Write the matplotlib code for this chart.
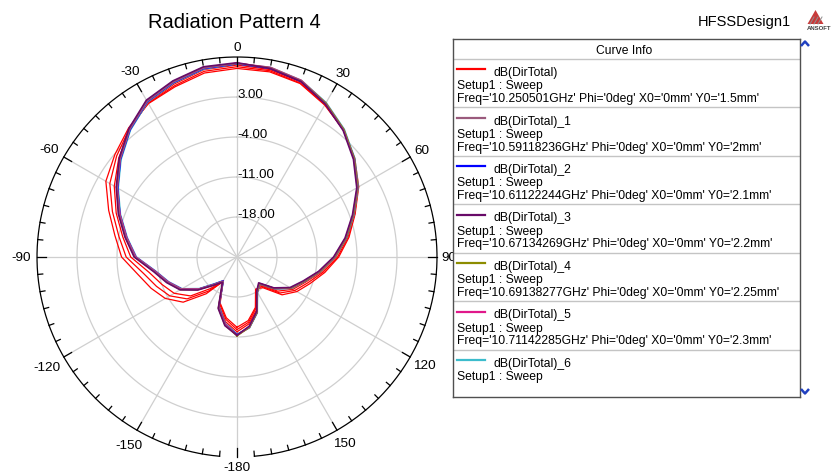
import numpy as np
import matplotlib
matplotlib.use("Agg")
import matplotlib.pyplot as plt
from matplotlib.patches import Polygon

plt.rcParams['font.family'] = ['Liberation Sans', 'DejaVu Sans']

W, H, DPI = 832, 477, 100

# theta sweep in degrees (Phi = 0 cut)
theta = [-180, -170, -160, -150, -140, -130, -120, -110, -100, -90, -80, -70, -60,
         -50, -40, -30, -20, -10, 0, 10, 20, 30, 40, 50, 60, 70, 80, 90, 100,
         110, 120, 130, 140, 150, 160, 170, 180]

# dB(DirTotal) traces
dir_total = [-12.7, -14.2, -16.4, -20.0, -16.6, -12.7, -10.5, -9.0, -7.4, -4.8, -3.3, -1.1, 1.5,
             2.9, 4.5, 6.0, 6.7, 7.7, 8.0, 7.9, 7.3, 5.7, 4.0, 1.9, -0.4, -3.0, -5.1, -7.2, -9.4,
             -11.4, -12.9, -14.7, -18.0, -18.5, -15.6, -13.7, -12.7]
dir_total_1 = [-11.3, -13.0, -15.6, -20.1, -18.7, -16.2, -13.7, -12.1, -10.4, -7.2, -5.3, -3.1, -0.8,
               1.7, 4.2, 6.5, 7.6, 8.6, 8.9, 8.6, 7.8, 6.0, 4.0, 1.7, -0.7, -3.4, -5.7, -8.0, -10.4,
               -12.6, -14.2, -16.5, -19.0, -18.0, -14.8, -12.6, -11.3]
dir_total_2 = [-11.4, -13.1, -15.7, -20.2, -18.8, -16.3, -13.8, -12.2, -10.5, -7.3, -5.4, -3.2, -0.9,
               1.6, 4.1, 6.4, 7.5, 8.5, 8.8, 8.5, 7.7, 6.0, 4.0, 1.8, -0.6, -3.3, -5.6, -7.9, -10.3,
               -12.5, -14.1, -16.4, -18.9, -17.9, -14.7, -12.5, -11.4]
dir_total_3 = [-11.3, -12.8, -15.4, -19.9, -18.5, -16.0, -13.5, -11.9, -10.2, -7.0, -5.1, -2.9, -0.6,
               1.9, 4.4, 6.7, 7.8, 8.8, 9.0, 8.5, 7.7, 5.9, 3.9, 1.6, -0.8, -3.5, -5.8, -8.1, -10.5,
               -12.7, -14.3, -16.6, -19.1, -18.1, -14.9, -12.7, -11.3]
dir_total_4 = [-11.2, -12.9, -15.5, -20.0, -18.6, -16.1, -13.6, -12.0, -10.3, -7.1, -5.2, -3.0, -0.7,
               1.8, 4.3, 6.6, 7.7, 8.7, 8.9, 8.6, 7.8, 6.1, 4.1, 1.8, -0.6, -3.3, -5.6, -7.9, -10.3,
               -12.5, -14.1, -16.4, -18.9, -17.9, -14.7, -12.5, -11.2]
dir_total_5 = [-11.3, -13.1, -15.6, -20.1, -18.7, -16.3, -13.8, -12.2, -10.5, -7.3, -5.4, -3.2, -0.8,
               1.7, 4.2, 6.5, 7.6, 8.6, 8.9, 8.7, 7.9, 6.1, 4.1, 1.8, -0.6, -3.3, -5.6, -7.9, -10.3,
               -12.5, -14.1, -16.4, -18.9, -17.9, -14.7, -12.5, -11.3]
dir_total_6 = [-11.5, -13.2, -15.8, -20.2, -18.9, -16.4, -13.9, -12.3, -10.6, -7.4, -5.5, -3.3, -1.0,
               1.5, 4.0, 6.3, 7.4, 8.4, 8.8, 8.7, 7.9, 6.2, 4.2, 1.9, -0.5, -3.2, -5.5, -7.8, -10.2,
               -12.4, -14.0, -16.3, -18.8, -17.8, -14.6, -12.4, -11.5]
# further sweep entries below the visible part of the curve list
dir_total_7 = [-12.3, -13.9, -16.2, -20.0, -17.2, -13.6, -11.4, -10.0, -8.4, -5.6, -4.0, -1.8, 0.7,
               2.5, 4.3, 6.1, 6.9, 8.0, 8.3, 8.1, 7.4, 5.8, 4.0, 1.8, -0.5, -3.1, -5.3, -7.4, -9.7,
               -11.8, -13.3, -15.2, -18.3, -18.4, -15.4, -13.4, -12.3]
dir_total_8 = [-11.9, -13.5, -15.9, -20.1, -17.8, -14.4, -12.3, -11.0, -9.4, -6.4, -4.7, -2.5, -0.2,
               2.0, 4.1, 6.2, 7.2, 8.3, 8.6, 8.3, 7.6, 5.9, 4.0, 1.8, -0.6, -3.2, -5.5, -7.7, -10.0,
               -12.2, -13.7, -15.7, -18.6, -18.2, -15.1, -13.1, -11.9]

curve_names = ["dB(DirTotal)", "dB(DirTotal)_1", "dB(DirTotal)_2", "dB(DirTotal)_3",
               "dB(DirTotal)_4", "dB(DirTotal)_5", "dB(DirTotal)_6"]
freqs = ["10.250501GHz", "10.59118236GHz", "10.61122244GHz", "10.67134269GHz",
         "10.69138277GHz", "10.71142285GHz"]
y0s = ["1.5mm", "2mm", "2.1mm", "2.2mm", "2.25mm", "2.3mm"]
colors = ["#ff0000", "#9a5a7c", "#0000ff", "#680a68", "#8c8c00", "#e0188a", "#3cbccc"]

ring_vals = [-18, -11, -4, 3]
r_min, r_max = -25, 10
angle_ticks = [0, 30, 60, 90, 120, 150, -180, -150, -120, -90, -60, -30]

grid_color = "#cfcfcf"

fig = plt.figure(figsize=(W / DPI, H / DPI), dpi=DPI)
fig.patch.set_facecolor("white")

# polar plot area, centre (237, 258) px, radius 200 px
cx, cy, R = 237, 258, 200
ax = fig.add_axes([(cx - R) / W, (H - cy - R) / H, 2 * R / W, 2 * R / H], projection="polar")
ax.set_theta_zero_location("N")
ax.set_theta_direction(-1)
ax.set_rlim(r_min, r_max)
ax.grid(False)
ax.set_xticks([])
ax.set_yticks([])
ax.spines["polar"].set_visible(False)
ax.patch.set_alpha(0)

full = np.linspace(0, 2 * np.pi, 721)
for rv in ring_vals:
    ax.plot(full, np.full_like(full, rv), color=grid_color, lw=0.9, zorder=1)
    ax.text(0, rv + 0.45, f"{rv:.2f}", ha="left", va="center", fontsize=9.5, zorder=5)
for a in range(0, 360, 30):
    ax.plot([np.radians(a)] * 2, [r_min, r_max], color=grid_color, lw=0.9, zorder=1)

# outer ring, open at the bottom
arc = np.radians(np.linspace(-175, 175, 701))
ax.plot(arc, np.full_like(arc, r_max), color="black", lw=0.9, clip_on=False, zorder=4)
px = (r_max - r_min) / R
for a in range(0, 360, 5):
    ln = 9 if a % 30 == 0 else 5
    ax.plot([np.radians(a)] * 2, [r_max, r_max - ln * px], color="black", lw=0.9,
            clip_on=False, zorder=4)

for a in angle_ticks:
    lab = str(a)
    w = 7.2 * len(lab)
    s, c = abs(np.sin(np.radians(a))), abs(np.cos(np.radians(a)))
    r_px = R + 5 + 0.5 * (s * w + c * 10)
    ax.text(np.radians(a), r_min + r_px * px, lab, ha="center", va="center",
            fontsize=9.7, clip_on=False)

th = np.radians(theta)
series = [dir_total, dir_total_1, dir_total_2, dir_total_3, dir_total_4, dir_total_5, dir_total_6]
# red ones first, then the cluster with the purple trace on top
ax.plot(th, dir_total, color=colors[0], lw=0.9, zorder=3)
for vals in [dir_total_7, dir_total_8]:
    ax.plot(th, vals, color="#ff0000", lw=0.9, zorder=3)
for i in [6, 2, 5, 4, 1, 3]:
    ax.plot(th, series[i], color=colors[i], lw=1.2 if i == 3 else 1.1, zorder=3)

fig.text(234 / W, 1 - 28.5 / H, "Radiation Pattern 4", ha="center", va="baseline", fontsize=14.5)
fig.text(698 / W, 1 - 26 / H, "HFSSDesign1", ha="left", va="baseline", fontsize=10.5)

# curve info table
bx0, by0, bx1, by1 = 452.5, 39.5, 799.5, 397.5
lg = fig.add_axes([bx0 / W, (H - by1) / H, (bx1 - bx0) / W, (by1 - by0) / H])
lg.set_xlim(0, bx1 - bx0)
lg.set_ylim(by1 - by0, 0)
lg.set_xticks([])
lg.set_yticks([])
lg.set_facecolor("white")
for sp in lg.spines.values():
    sp.set_color("#505050")
    sp.set_linewidth(1)
lg.text(172, 14.5, "Curve Info", ha="center", va="baseline", fontsize=8.7)
head, step = 20, 48.5
lg.axhline(head, color="#c4c4c4", lw=1)
for i, name in enumerate(curve_names):
    top = head + i * step
    lg.plot([4.5, 32.5], [top + 10.5, top + 10.5], color=colors[i], lw=1.6)
    lg.text(40.5, top + 16.5, name, ha="left", va="baseline", fontsize=8.7)
    lg.text(4.3, top + 30, "Setup1 : Sweep", ha="left", va="baseline", fontsize=8.7)
    if i < len(freqs):
        lg.text(4.3, top + 42.5,
                f"Freq='{freqs[i]}' Phi='0deg' X0='0mm' Y0='{y0s[i]}'",
                ha="left", va="baseline", fontsize=8.7)
        lg.axhline(top + step, color="#c4c4c4", lw=1)

# scroll arrows and logo
ov = fig.add_axes([0, 0, 1, 1])
ov.set_xlim(0, W)
ov.set_ylim(H, 0)
ov.axis("off")
ov.plot([801, 805, 809], [47, 42.5, 47], color="#2040c0", lw=1.8, solid_capstyle="butt")
ov.plot([801, 805, 809], [390, 394.5, 390], color="#2040c0", lw=1.8, solid_capstyle="butt")
ov.add_patch(Polygon([[815.5, 11], [807.5, 25], [823.5, 25]], closed=True,
                     facecolor="#c83a3a", edgecolor="none"))
for k in range(3):
    ov.plot([810 + 4 * k, 814 + 4 * k], [25, 18], color="#909090", lw=0.7)
ov.text(819.5, 30.5, "ANSOFT", ha="center", va="baseline", fontsize=4.3, fontweight="bold",
        color="#404040")

fig.savefig("out.png", dpi=DPI)
